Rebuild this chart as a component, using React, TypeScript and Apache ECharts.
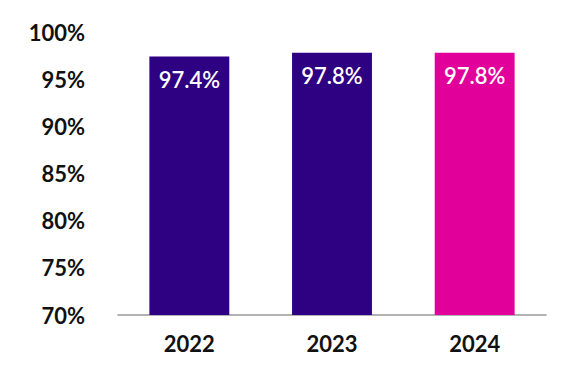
import React, { useEffect, useRef } from "react";
import * as echarts from "echarts";

const categories = ["2022", "2023", "2024"];
const values = [97.4, 97.8, 97.8];
const barColors = ["#2E0082", "#2E0082", "#E2009A"];

export default function App() {
  const ref = useRef<HTMLDivElement>(null);
  useEffect(() => {
    if (!ref.current) return;
    const chart = echarts.init(ref.current, null, { renderer: "svg" });
    chart.setOption({
      animation: false,
      grid: { left: 118, right: 30, top: 32, bottom: 69 },
      xAxis: {
        type: "category",
        data: categories,
        axisLine: { lineStyle: { color: "#999999", width: 1.5 } },
        axisTick: { show: false },
        axisLabel: {
          color: "#111111",
          fontSize: 22,
          fontWeight: "bold",
          fontFamily: "Lato",
          margin: 17,
        },
      },
      yAxis: {
        type: "value",
        min: 70,
        max: 100,
        interval: 5,
        splitLine: { show: false },
        axisLine: { show: false },
        axisTick: { show: false },
        axisLabel: {
          formatter: "{value}%",
          color: "#111111",
          fontSize: 22,
          fontWeight: "bold",
          fontFamily: "Lato",
          margin: 33,
        },
      },
      series: [
        {
          type: "bar",
          barWidth: "56%",
          data: values.map((v, i) => ({ value: v, itemStyle: { color: barColors[i] } })),
          label: {
            show: true,
            position: "insideTop",
            distance: 12,
            formatter: (p: any) => p.value.toFixed(1) + "%",
            color: "#ffffff",
            fontSize: 22,
            fontWeight: 600,
            fontFamily: "Lato",
          },
        },
      ],
    });
    return () => chart.dispose();
  }, []);
  return <div ref={ref} style={{ width: 576, height: 384, position: "absolute", left: 0, top: 0 }} />;
}
